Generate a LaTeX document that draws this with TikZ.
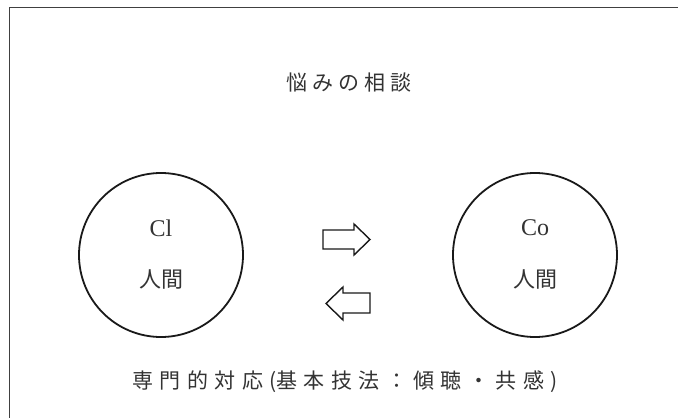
\documentclass[tikz,border=0pt]{standalone}
\usepackage{fontspec}
\setmainfont{Liberation Serif}
\newfontfamily\cjk{Noto Sans CJK JP}
\newcommand{\gp}{\hspace{5pt}}
\newcommand{\gq}{\hspace{6.4pt}}
\tikzset{
  frameline/.style={draw=black!75, line width=1.9pt},
  person/.style={circle, draw=black!90, line width=1.8pt, minimum size=164pt, inner sep=0pt},
  fatarrow/.style={draw=black!90, line width=1.4pt, fill=white, line join=miter},
  lab/.style={text=black!80, inner sep=0pt, anchor=center},
}
\begin{document}
\begin{tikzpicture}[x=1pt, y=-1pt]
\useasboundingbox (0,0) rectangle (678,418);
\fill[white] (0,0) rectangle (678,418);
% frame (right and bottom sides lie outside the picture)
\draw[frameline] (9.5,420) -- (9.5,7.5) -- (680,7.5);
% title
\node[lab, font=\cjk\fontsize{21}{21}\selectfont] (title) at (349,83) {悩\gp み\gp の\gp 相\gp 談};
% circles
\node[person] (cl) at (161,255) {};
\node[person] (co) at (535,255) {};
\node[lab, font=\fontsize{24}{24}\selectfont] (cltxt) at (161,228) {Cl};
\node[lab, font=\cjk\fontsize{22}{22}\selectfont] (clhum) at (161,279) {人間};
\node[lab, font=\fontsize{24}{24}\selectfont] (cotxt) at (535,228) {Co};
\node[lab, font=\cjk\fontsize{22}{22}\selectfont] (cohum) at (535,279) {人間};
% arrows
\draw[fatarrow] (323,230) -- (354,230) -- (354,224) -- (370,239.5) -- (354,255) -- (354,249) -- (323,249) -- cycle;
\draw[fatarrow] (370,293) -- (343,293) -- (343,287) -- (326,303.5) -- (343,320) -- (343,313) -- (370,313) -- cycle;
% bottom text
\node[lab, font=\cjk\fontsize{21}{21}\selectfont] (method) at (345,382) {専\gq 門\gq 的\gq 対\gq 応\gq (基\gq 本\gq 技\gq 法\gq ：\gq 傾\gq 聴\gq ・\gq 共\gq 感\gq )};
\end{tikzpicture}
\end{document}
